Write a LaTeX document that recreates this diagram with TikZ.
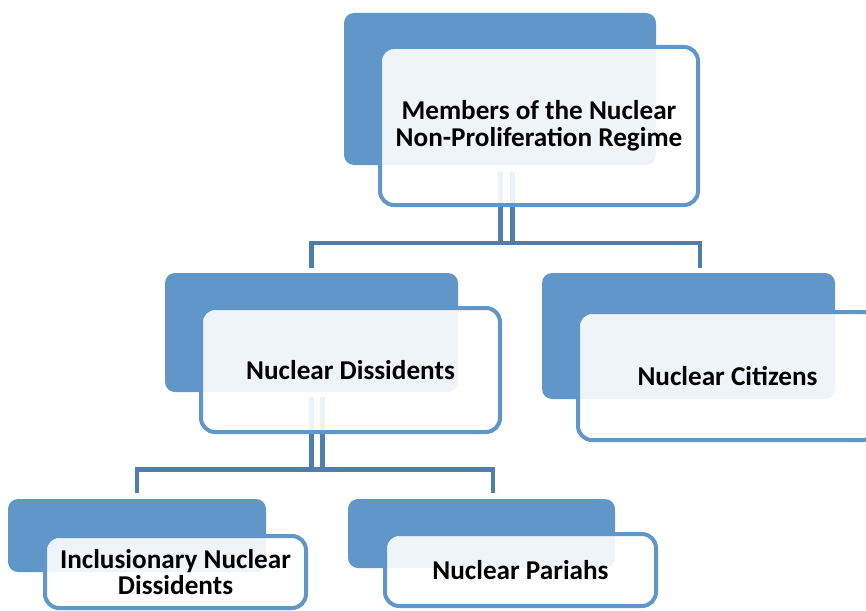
\documentclass[tikz,border=0pt]{standalone}
\usepackage{fontspec}
\setmainfont{Carlito}
\usetikzlibrary{calc}
\definecolor{boxblue}{HTML}{6096C8}
\definecolor{connblue}{HTML}{4F7DAE}
\begin{document}
\begin{tikzpicture}[x=1pt,y=-1pt,
  backbox/.style={draw=none, fill=boxblue, rounded corners=10pt, inner sep=0pt, outer sep=0pt},
  frontbox/.style={draw=boxblue, line width=4pt, fill=white, fill opacity=0.9, text opacity=1,
    rounded corners=14pt, inner sep=0pt, align=center, text=black,
    font=\fontsize{27.2}{26.5}\selectfont\bfseries},
  conn/.style={draw=connblue, line width=4.5pt},
  twin/.style={draw=connblue, line width=5pt}]
\useasboundingbox (0,0) rectangle (866,610);
\clip (0,0) rectangle (866,610);
% back boxes
\node[backbox, minimum width=312pt, minimum height=152pt] (Tb) at (500,89) {};
\node[backbox, minimum width=293pt, minimum height=119pt] (Db) at (311.5,332.5) {};
\node[backbox, minimum width=293pt, minimum height=126pt] (Cb) at (688.5,336) {};
\node[backbox, minimum width=258pt, minimum height=73pt] (Ib) at (137,535.5) {};
\node[backbox, minimum width=267pt, minimum height=69pt] (Pb) at (481.5,533.5) {};
% connectors
\draw[twin] ($(Tb.south)+(0,7)$) -- ($(Tb.south)+(0,79)$);
\draw[twin] ($(Tb.south)+(12,7)$) -- ($(Tb.south)+(12,79)$);
\draw[conn] ($(Db.north)+(0,-5)$) |- ($(Cb.north)+(11.5,-30)$) -- ($(Cb.north)+(11.5,-5)$);
\draw[twin] ($(Db.south)+(0,5)$) -- ($(Db.south)+(0,79)$);
\draw[twin] ($(Db.south)+(11,5)$) -- ($(Db.south)+(11,79)$);
\draw[conn] ($(Ib.north)+(0,-6)$) |- ($(Pb.north)+(11.5,-29.5)$) -- ($(Pb.north)+(11.5,-6)$);
% front boxes
\node[frontbox, minimum width=318pt, minimum height=158pt] (Tf) at (539,126)
  {Members of the Nuclear\\Non-Proliferation Regime};
\node[frontbox, minimum width=299pt, minimum height=124pt] (Df) at (350.5,370) {Nuclear Dissidents};
\node[frontbox, minimum width=299pt, minimum height=128pt] (Cf) at (727.5,376) {Nuclear Citizens};
\node[frontbox, minimum width=261pt, minimum height=72pt] (If) at (175.5,572)
  {Inclusionary Nuclear\\Dissidents};
\node[frontbox, minimum width=271pt, minimum height=72pt] (Pf) at (520.5,570) {Nuclear Pariahs};
\end{tikzpicture}
\end{document}
